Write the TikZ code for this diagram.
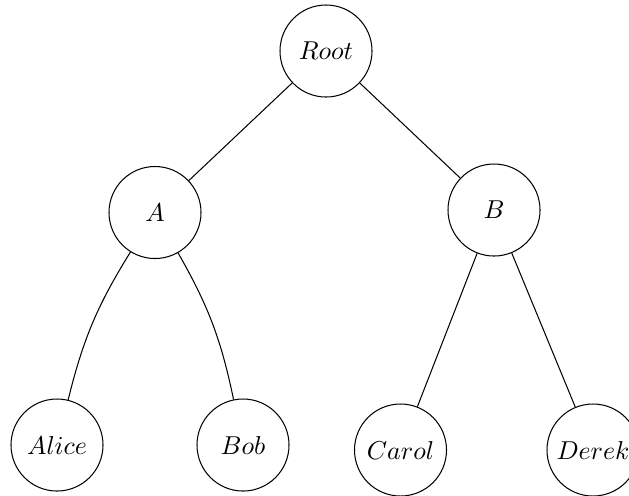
\documentclass[tikz,border=0pt]{standalone}
\begin{document}
\begin{tikzpicture}[x=0.3865pt,y=-0.3865pt,
  vertex/.style={circle,draw,minimum size=1.25cm,inner sep=1pt},
  link/.style={draw,line width=0.4pt}]
  \useasboundingbox (0,0) rectangle (629,495);
  \clip (0,0) rectangle (629,495);
  % tree nodes
  \node[vertex] (root)  at (326,51)    {$Root$};
  \node[vertex] (a)     at (155,212.5) {$A$};
  \node[vertex] (b)     at (494,210)   {$B$};
  \node[vertex] (alice) at (57,445)    {$Alice$};
  \node[vertex] (bob)   at (243,445)   {$Bob$};
  \node[vertex] (carol) at (400.5,450) {$Carol$};
  \node[vertex] (derek) at (593,450)   {$Derek$};
  % edges
  \draw[link] (root) -- (a);
  \draw[link] (root) -- (b);
  \draw[link] (a) to[bend right=9] (alice);
  \draw[link] (a) to[bend left=9] (bob);
  \draw[link] (b) -- (carol);
  \draw[link] (b) -- (derek);
\end{tikzpicture}
\end{document}
